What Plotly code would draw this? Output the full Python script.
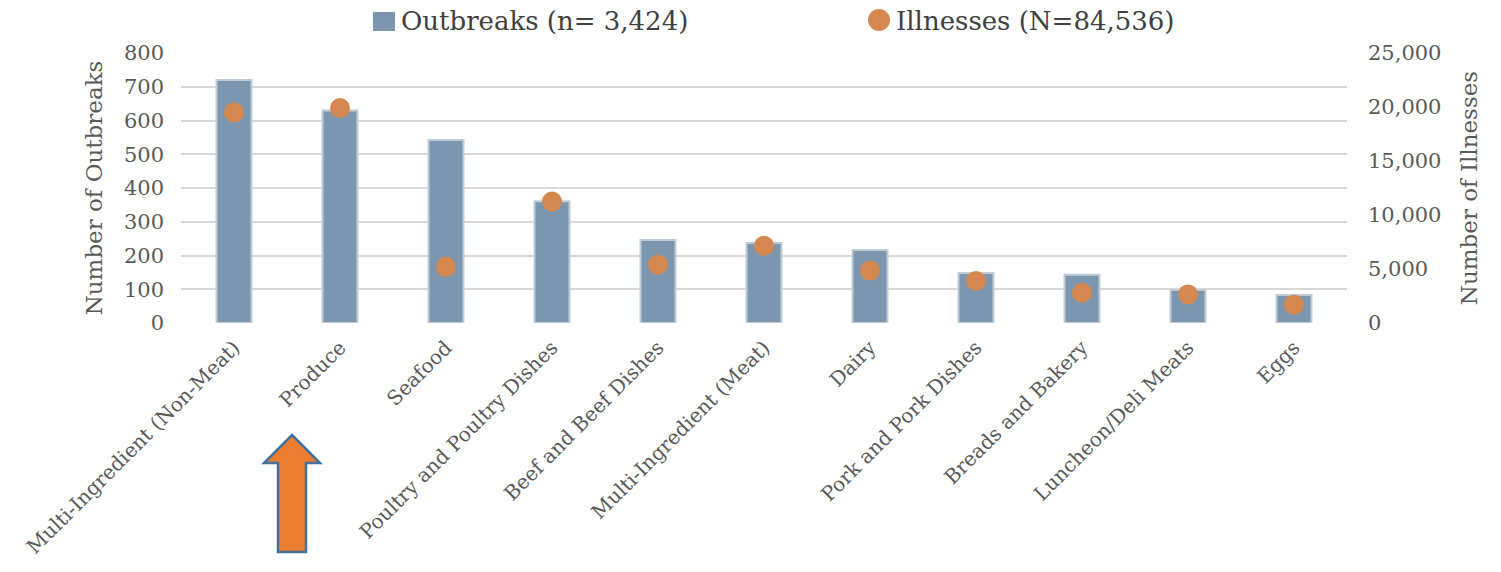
import plotly.graph_objects as go

# Foodborne outbreaks and illnesses by food category
categories = [
    "Multi-Ingredient (Non-Meat)", "Produce", "Seafood",
    "Poultry and Poultry Dishes", "Beef and Beef Dishes",
    "Multi-Ingredient (Meat)", "Dairy", "Pork and Pork Dishes",
    "Breads and Bakery", "Luncheon/Deli Meats", "Eggs",
]
outbreaks = [720, 630, 542, 361, 246, 237, 216, 148, 143, 98, 83]
illnesses = [19500, 19900, 5200, 11250, 5400, 7150, 4850, 3900, 2800, 2650, 1700]

outbreak_label = "Outbreaks (n= 3,424)"
illness_label = "Illnesses (N=84,536)"

W, H = 1501, 572
L, R, T, B = 181, 154, 53, 249
PW, PH = W - L - R, H - T - B

BAR = "#7b96ae"
DOT = "#d4884f"
GRID = "#d9d9d9"
TXT = "#595959"
FONT = "DejaVu Serif"


def px_x(x):
    return (x - L) / PW


def px_y(y):
    return (H - B - y) / PH


fig = go.Figure()
fig.add_trace(go.Bar(
    x=categories, y=outbreaks, name=outbreak_label,
    marker=dict(color=BAR, line=dict(color="#bfcbd7", width=2)),
    showlegend=False, yaxis="y",
))
fig.add_trace(go.Scatter(
    x=categories, y=illnesses, name=illness_label, mode="markers",
    marker=dict(color=DOT, size=20),
    showlegend=False, yaxis="y2",
))

fig.update_layout(
    width=W, height=H,
    margin=dict(l=L, r=R, t=T, b=B),
    paper_bgcolor="white", plot_bgcolor="white",
    bargap=0.67,
    font=dict(family=FONT, color=TXT),
    xaxis=dict(
        range=[-0.5, len(categories) - 0.5],
        tickangle=-45, tickfont=dict(size=20, color=TXT),
        showgrid=False, showline=False, zeroline=False,
        ticks="", ticklabelstandoff=8,
    ),
    yaxis=dict(
        range=[0, 800], dtick=100, showgrid=True, gridcolor=GRID, gridwidth=2,
        zeroline=False, showline=False, ticks="",
        tickfont=dict(size=21, color=TXT), ticklabelstandoff=16,
        title=dict(text="Number of Outbreaks", font=dict(size=23, color=TXT), standoff=14),
    ),
    yaxis2=dict(
        range=[0, 25000], dtick=5000, tickformat=",", overlaying="y", side="right",
        showgrid=False, zeroline=False, showline=False, ticks="",
        tickfont=dict(size=21, color=TXT), ticklabelstandoff=20,
        title=dict(text="Number of Illnesses", font=dict(size=23, color=TXT), standoff=20),
    ),
)

# Legend drawn as swatches plus text above the plot
fig.add_shape(type="rect", xref="paper", yref="paper",
              x0=px_x(373), x1=px_x(395), y0=px_y(31), y1=px_y(12),
              fillcolor=BAR, line=dict(width=0))
fig.add_shape(type="circle", xref="paper", yref="paper",
              x0=px_x(868), x1=px_x(890), y0=px_y(31), y1=px_y(9),
              fillcolor=DOT, line=dict(width=0))
fig.add_annotation(text=outbreak_label, xref="paper", yref="paper",
                   x=px_x(399), y=px_y(21), xanchor="left", yanchor="middle",
                   showarrow=False, font=dict(size=26, color="#404040"))
fig.add_annotation(text=illness_label, xref="paper", yref="paper",
                   x=px_x(894), y=px_y(21), xanchor="left", yanchor="middle",
                   showarrow=False, font=dict(size=26, color="#404040"))

# Block arrow pointing up at the Produce label
ax = [292, 320, 306, 306, 278, 278, 264]
ay = [435, 463, 463, 552, 552, 463, 463]
path = "M " + " L ".join(f"{px_x(x):.5f},{px_y(y):.5f}" for x, y in zip(ax, ay)) + " Z"
fig.add_shape(type="path", xref="paper", yref="paper", path=path,
              fillcolor="#ed7d31", line=dict(color="#41719c", width=2.5))

fig.write_html("out.html")
